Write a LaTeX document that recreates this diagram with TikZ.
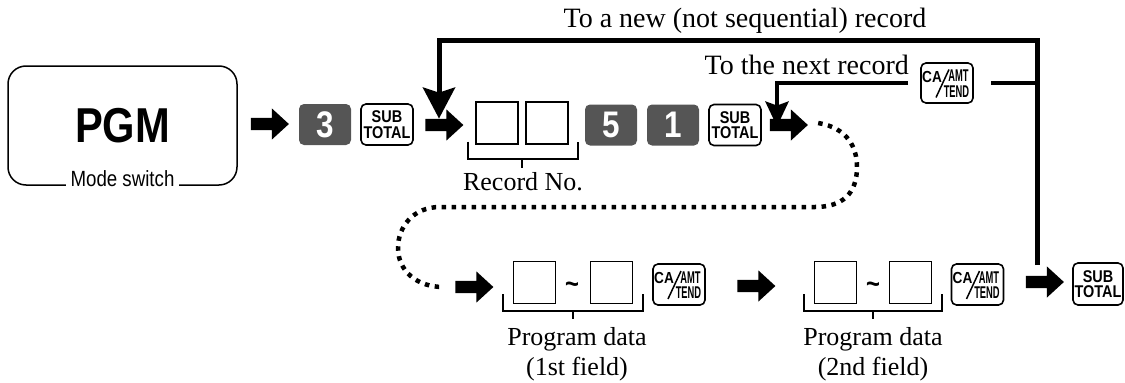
\documentclass[tikz,border=0pt]{standalone}
\usepackage{fontspec}
\setmainfont{Liberation Serif}
\setsansfont{Liberation Sans}
\newfontfamily\keyfont[FakeStretch=0.85]{Liberation Sans}
\newfontfamily\keyfontn[FakeStretch=0.55]{Liberation Sans}
\usetikzlibrary{arrows.meta,shapes.arrows,calc}
\newcommand{\cakey}[3][]{%
 \node[key,#1] (#2) at (#3) {};
 \node[cafont] (#2-ca) at ($(#2)+(-15,-6.5)$) {CA};
 \node[amtfont] (#2-amt) at ($(#2)+(11.5,-7)$) {AMT};
 \node[amtfont] (#2-tend) at ($(#2)+(9.5,8.5)$) {TEND};
 \draw[line width=1.5pt] ($(#2)+(-11,14.5)$) -- ($(#2)+(2,-13.5)$);}
\begin{document}
\begin{tikzpicture}[x=1pt,y=-1pt]
\definecolor{keydark}{HTML}{555555}
\tikzset{modebox/.style={draw,line width=1.5pt,rounded corners=18pt,minimum width=229pt,minimum height=119pt,inner sep=0pt},
 key/.style={draw,line width=1.6pt,rounded corners=5pt,fill=white,minimum width=52pt,minimum height=41pt,inner sep=0pt,align=center},
 subkey/.style={key,font=\keyfont\bfseries\fontsize{17}{15.5}\selectfont},
 cafont/.style={inner sep=0pt,font=\keyfont\bfseries\fontsize{16}{16}\selectfont},
 amtfont/.style={inner sep=0pt,font=\keyfontn\bfseries\fontsize{17}{17}\selectfont},
 numkey/.style={fill=keydark,rounded corners=5pt,minimum width=52pt,minimum height=41pt,inner sep=0pt,text=white,font=\keyfont\bfseries\fontsize{37}{37}\selectfont},
 entry/.style={draw,line width=1.4pt,minimum width=42pt,minimum height=42pt,inner sep=0pt},
 tilde/.style={font=\keyfont\bfseries\fontsize{28}{28}\selectfont,inner sep=0pt},
 blockarrow/.style={shape=single arrow,fill=black,draw=none,inner xsep=0pt,inner ysep=6pt,minimum height=38pt,single arrow head extend=9.5pt,single arrow head indent=0pt,single arrow tip angle=85},
 bracket/.style={line width=1.8pt},
 loopline/.style={line width=5pt,-{Stealth[length=31pt,width=32pt,inset=5pt]}},
 nextline/.style={line width=4.5pt},
 dotline/.style={line width=4.5pt,dash pattern=on 4.5pt off 5.5pt},
 lbl/.style={inner sep=0pt,font=\fontsize{26}{30}\selectfont,align=center}}
\useasboundingbox (0,0) rectangle (1125,383);
\node[modebox] (pgm) at (122.5,125.5) {\keyfont\bfseries\fontsize{49}{49}\selectfont PGM};
\node[fill=white,inner xsep=5pt,inner ysep=1pt,anchor=base,yshift=-1pt,font=\keyfont\fontsize{22}{22}\selectfont] (mode) at (pgm.south) {Mode switch};
\node[blockarrow] (a1) at (266.5,124) {};
\node[numkey] (k3) at (325,124.5) {3};
\node[subkey] (sub1) at (387,124.5) {SUB\\TOTAL};
\node[blockarrow] (a2) at (441,125) {};
\node[entry] (rec1) at (497,123) {};
\node[entry] (rec2) at (547,123) {};
\node[numkey] (k5) at (611,125) {5};
\node[numkey] (k1) at (673,125) {1};
\node[subkey] (sub2) at (735,125) {SUB\\TOTAL};
\node[blockarrow] (a3) at (785.5,125) {};
\draw[bracket] ([xshift=-7pt,yshift=3pt]rec1.south west) -- ++(0,17) -| ([xshift=9pt,yshift=3pt]rec2.south east);
\draw[bracket] ($(rec1.south east)!.5!(rec2.south west)+(0,14)$) -- ++(0,9);
\node[lbl,anchor=base] (recno) at (523,190) {Record No.};
\node[blockarrow] (a4) at (471,287) {};
\node[entry] (d1a) at (534.5,282.5) {};
\node[entry] (d1b) at (611.5,282.5) {};
\node[tilde] (t1) at (572,288) {\textasciitilde};
\cakey{ca1}{679,284.5}
\node[blockarrow] (a5) at (753,286) {};
\node[entry] (d2a) at (835.5,282.5) {};
\node[entry] (d2b) at (910.5,282.5) {};
\node[tilde] (t2) at (873,288) {\textasciitilde};
\cakey{ca2}{977.5,284.5}
\node[blockarrow] (a6) at (1041.5,282) {};
\node[subkey,minimum width=50pt,minimum height=42pt] (sub3) at (1098,284) {SUB\\TOTAL};
\draw[bracket] ([xshift=-10pt,yshift=10pt]d1a.south west) -- ++(0,17) -| ([xshift=10pt,yshift=10pt]d1b.south east);
\draw[bracket] ($(d1a.south east)!.5!(d1b.south west)+(0,7)$) -- ++(0,8);
\draw[bracket] ([xshift=-10pt,yshift=10pt]d2a.south west) -- ++(0,17) -| ([xshift=10pt,yshift=10pt]d2b.south east);
\draw[bracket] ($(d2a.south east)!.5!(d2b.south west)+(0,7)$) -- ++(0,8);
\node[lbl,anchor=north] (pd1) at (577,327) {Program data\\(1st field)};
\node[lbl,anchor=north] (pd2) at (873,327) {Program data\\(2nd field)};
\cakey[minimum height=40pt]{ca3}{947,83}
\coordinate (j) at (1037,265);
\coordinate (toprt) at (1037,40);
\coordinate (nr) at (1037,83);
\draw[loopline] (j) -- (toprt) -| ([xshift=-2pt]a2.north);
\draw[nextline] (nr) -- ([xshift=17pt]ca3.east);
\draw[nextline,-{Stealth[length=25pt,width=23pt,inset=4pt]}] ([xshift=-12pt]ca3.west) -| ([xshift=-8.5pt,yshift=-8pt]a3.north);
\node[inner sep=0pt,anchor=base,font=\fontsize{28}{28}\selectfont] (newrec) at (745,27) {To a new (not sequential) record};
\node[inner sep=0pt,anchor=base east,font=\fontsize{28}{28}\selectfont] (nextrec) at (909,74) {To the next record};
\draw[dotline] ([xshift=10pt,yshift=2pt]a3.east) .. controls (848,128) and (857,148) .. (857,167) .. controls (857,194) and (842,207) .. (815,207) -- (440,207) .. controls (413,207) and (398,227) .. (398,248) .. controls (398,271) and (417,287) .. ([xshift=-12pt]a4.west);
\end{tikzpicture}
\end{document}
